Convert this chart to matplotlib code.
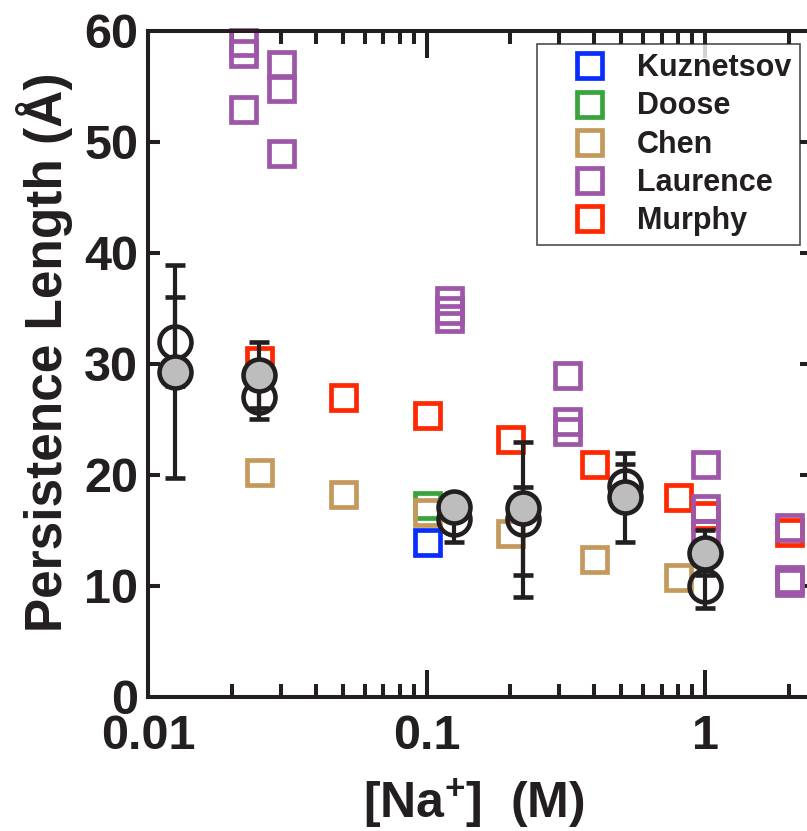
import matplotlib
matplotlib.use("Agg")
import matplotlib.pyplot as plt
import numpy as np
from matplotlib.ticker import LogLocator, NullFormatter

plt.rcParams['font.family'] = ['Liberation Sans', 'DejaVu Sans']
plt.rcParams['font.weight'] = 'bold'
plt.rcParams['mathtext.fontset'] = 'custom'
plt.rcParams['mathtext.rm'] = 'Liberation Sans:bold'
plt.rcParams['mathtext.bf'] = 'Liberation Sans:bold'

DARK = '#231f20'

# literature values (squares)
kuz_x = [0.1]
kuz_y = [14.0]
doose_x = [0.1]
doose_y = [17.3]
chen_x = [0.025, 0.05, 0.1, 0.2, 0.4, 0.8]
chen_y = [20.3, 18.3, 16.7, 14.8, 12.4, 10.8]
laur_x = [0.022, 0.022, 0.022, 0.03, 0.03, 0.03, 0.12, 0.12, 0.12,
          0.32, 0.32, 0.32, 1.0, 1.0, 1.0, 2.0, 2.0, 2.0]
laur_y = [59.0, 58.0, 53.0, 57.0, 54.9, 49.0, 35.8, 34.9, 34.1,
          29.0, 24.9, 24.0, 21.0, 17.0, 14.8, 15.3, 10.6, 10.35]
murphy_x = [0.025, 0.05, 0.1, 0.2, 0.4, 0.8, 1.0, 2.0]
murphy_y = [30.4, 27.0, 25.4, 23.2, 21.0, 18.0, 16.4, 14.9]

# this work (circles with error bars)
circ_x = [0.0125, 0.025, 0.125, 0.222, 0.516, 1.0]
open_y = [32.0, 27.0, 16.0, 16.0, 19.0, 10.0]
open_lo = [4.0, 2.0, 2.0, 7.0, 2.0, 2.0]
open_hi = [4.0, 2.0, 2.0, 2.9, 2.0, 2.0]
fill_y = [29.3, 29.0, 17.1, 17.0, 18.0, 13.0]
fill_err = [9.6, 3.0, 1.0, 6.0, 4.0, 2.0]

fig = plt.figure(figsize=(8.07, 8.31), dpi=100)
ax = fig.add_axes([0.1834, 0.1613, 0.8228, 0.8014])

sq = dict(marker='s', ms=18, mew=3.4, mfc='none', ls='none', clip_on=False)
h_kuz, = ax.plot(kuz_x, kuz_y, mec='#0a2dff', label='Kuznetsov', **sq)
h_doose, = ax.plot(doose_x, doose_y, mec='#3aa43c', label='Doose', **sq)
h_chen, = ax.plot(chen_x, chen_y, mec='#c49a5c', label='Chen', **sq)
h_mur, = ax.plot(murphy_x, murphy_y, mec='#ff2800', label='Murphy', **sq)
h_laur, = ax.plot(laur_x, laur_y, mec='#9e56a8', label='Laurence', **sq)

eb = dict(fmt='o', ms=23, mew=3.3, ecolor=DARK, mec=DARK,
          elinewidth=3.0, capsize=7.5, capthick=3.0, clip_on=False)
ax.errorbar(circ_x, open_y, yerr=[open_lo, open_hi], mfc='none', **eb)
ax.errorbar(circ_x, fill_y, yerr=fill_err, mfc='#bdbdbd', **eb)

ax.set_xscale('log')
ax.set_xlim(0.01, 2.42)
ax.set_ylim(0, 60)
ax.set_xticks([0.01, 0.1, 1])
ax.set_xticklabels(['0.01', '0.1', '1'])
ax.xaxis.set_minor_locator(LogLocator(base=10, subs=np.arange(2, 10)))
ax.xaxis.set_minor_formatter(NullFormatter())
ax.set_yticks(np.arange(0, 61, 10))

for s in ax.spines.values():
    s.set_linewidth(2.9)
    s.set_color(DARK)
ax.tick_params(axis='both', which='both', direction='in', top=True, right=True,
               color=DARK, labelcolor=DARK, width=2.9, labelsize=35)
ax.tick_params(axis='x', which='major', length=19.5, pad=12)
ax.tick_params(axis='x', which='minor', length=9.4)
ax.tick_params(axis='y', which='major', length=8.6, pad=7)

ax.set_xlabel(r'[Na$^{\mathbf{+}}$]  (M)', fontsize=36, fontweight='bold',
              color=DARK)
ax.xaxis.set_label_coords(0.49, -0.12)
ax.set_ylabel('Persistence Length (Å)', fontsize=37, fontweight='bold',
              color=DARK)
ax.yaxis.set_label_coords(-0.113, 0.518)

leg = ax.legend(handles=[h_kuz, h_doose, h_chen, h_laur, h_mur],
                loc='upper right', bbox_to_anchor=(0.982, 0.9805),
                fontsize=22, frameon=True, fancybox=False, borderpad=0.3,
                handlelength=2.8, handletextpad=0.15, labelspacing=0.27,
                borderaxespad=0)
leg.get_frame().set_edgecolor(DARK)
leg.get_frame().set_linewidth(1.2)
for t in leg.get_texts():
    t.set_color(DARK)
    t.set_fontweight('bold')

fig.savefig('out.png', dpi=100)
